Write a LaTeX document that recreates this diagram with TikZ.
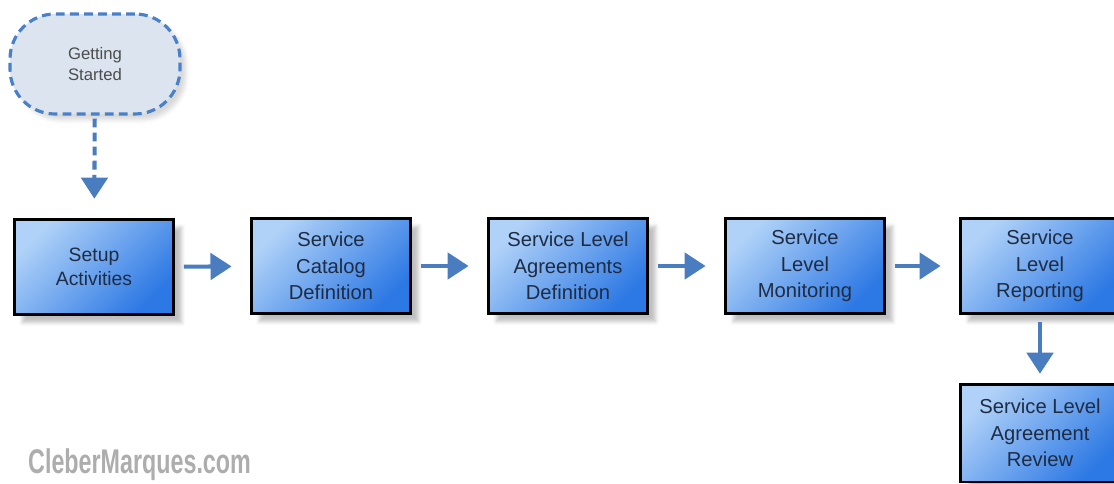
\documentclass[tikz,border=0pt]{standalone}
\usepackage{fontspec}
\setmainfont{Liberation Sans}
\usetikzlibrary{arrows.meta,shadows.blur}
\definecolor{boxlight}{HTML}{B0D2F8}
\definecolor{boxmid}{HTML}{5C9DF0}
\definecolor{boxdark}{HTML}{2C78E4}
\definecolor{arrowblue}{HTML}{4A7CC0}
\definecolor{startfill}{HTML}{DCE5EF}
\definecolor{startline}{HTML}{4A80C8}
\definecolor{labeltext}{HTML}{1E2C44}

\begin{document}
\begin{tikzpicture}[x=0.02cm,y=-0.02cm,
    phase/.style={draw=black, line width=1.7pt, left color=boxlight, middle color=boxmid,
      right color=boxdark, shading angle=45,
      minimum width=3.18cm, minimum height=1.9cm, align=center, text=labeltext,
      font=\fontsize{11.5}{15}\selectfont,
      blur shadow={shadow xshift=0.16cm, shadow yshift=-0.16cm, shadow blur radius=0.08cm, shadow opacity=25}},
    start/.style={draw=startline, dash pattern=on 5pt off 3pt, line width=1.8pt, fill=startfill,
      rounded corners=0.9cm, minimum width=3.4cm, minimum height=2cm, align=center,
      text=black!70, font=\fontsize{9.5}{11.5}\selectfont,
      blur shadow={shadow xshift=0.12cm, shadow yshift=-0.12cm, shadow blur radius=0.08cm, shadow opacity=15}},
    flow/.style={-{Triangle[length=12pt,width=15pt]}, draw=arrowblue, line width=2.3pt,
      shorten <=5pt, shorten >=10.5pt},
  ]
  \useasboundingbox (0,0) rectangle (1114,483);
  \coordinate (gs) at (95,64);
  \coordinate (sa) at (94,267);
  \coordinate (sc) at (331,266);
  \coordinate (sl) at (568,266);
  \coordinate (sm) at (805,266);
  \coordinate (sr) at (1040,266);
  \coordinate (sv) at (1040,433);
  \node[start] (getting) at (gs) {Getting\\Started};
  \node[phase, font=\fontsize{11}{14}\selectfont] (setup) at (sa) {Setup\\Activities};
  \node[phase] (catalog) at (sc) {Service\\Catalog\\Definition};
  \node[phase] (agreements) at (sl) {Service Level\\Agreements\\Definition};
  \node[phase] (monitoring) at (sm) {Service\\Level\\Monitoring};
  \node[phase] (reporting) at (sr) {Service\\Level\\Reporting};
  \node[phase, minimum height=1.96cm] (review) at (sv) {Service Level\\Agreement\\Review};
  \node[anchor=west, text=black!32, font=\bfseries\fontsize{19.5}{20}\selectfont] (brand) at (22,465)
    {\scalebox{0.68}[1]{CleberMarques.com}};
  \draw[flow, dash pattern=on 5pt off 3pt, shorten <=1.7pt, shorten >=11pt] (getting) -- (setup);
  \draw[flow] (setup) -- (catalog);
  \draw[flow] (catalog) -- (agreements);
  \draw[flow] (agreements) -- (monitoring);
  \draw[flow] (monitoring) -- (reporting);
  \draw[flow, shorten <=4pt, shorten >=5pt] (reporting) -- (review);
\end{tikzpicture}
\end{document}
